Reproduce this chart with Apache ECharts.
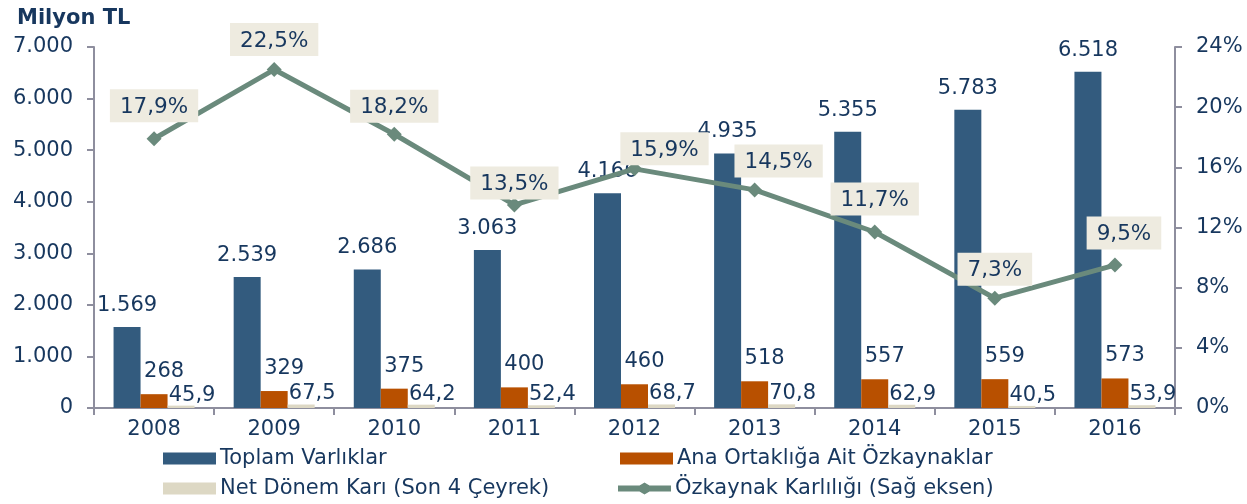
<!DOCTYPE html>
<html><head><meta charset="utf-8">
<script src="https://cdn.jsdelivr.net/npm/echarts@6/dist/echarts.min.js"></script>
<style>html,body{margin:0;padding:0;background:#fff}#c{width:1247px;height:504px}</style>
</head><body><div id="c"></div>
<script>
const categories = ['2008','2009','2010','2011','2012','2013','2014','2015','2016'];
const toplamVarliklar = [1569,2539,2686,3063,4166,4935,5355,5783,6518];
const anaOrtakligaOzkaynak = [268,329,375,400,460,518,557,559,573];
const netDonemKari = [45.9,67.5,64.2,52.4,68.7,70.8,62.9,40.5,53.9];
const ozkaynakKarliligi = [17.9,22.5,18.2,13.5,15.9,14.5,11.7,7.3,9.5];
const leftTicks = ['0','1.000','2.000','3.000','4.000','5.000','6.000','7.000'];
// label placement tweaks for the ratio labels (style, not data)
const ratioLabelDx = [0,0,0,0,30,24,0,0,9];
const ratioLabelGap = [16,13,11,5,3,12,16,12,15];

const FONT = 'DejaVu Sans';
const NAVY = '#17375E';
const fmtThousands = v => String(Math.round(v)).replace(/\B(?=(\d{3})+(?!\d))/g, '.');
const fmtDec = v => v.toFixed(1).replace('.', ',');
const lineIcon = 'path://M0,3 L21.5,3 L26.5,0 L31.5,3 L53,3 L53,9 L31.5,9 L26.5,12 L21.5,9 L0,9 Z';

const chart = echarts.init(document.getElementById('c'));
const lbl = {color: NAVY, fontFamily: FONT, fontSize: 21};
const axisCol = '#8E8E9E';
chart.setOption({
  animation: false,
  textStyle: {fontFamily: FONT},
  title: {text: 'Milyon TL', left: 12, top: 3, textStyle: {fontFamily: FONT, fontSize: 21, fontWeight: 'bold', color: NAVY}},
  grid: {left: 94, right: 72, top: 47, bottom: 96},
  legend: [
    {data: [{name: 'Toplam Varlıklar', icon: 'rect'}], left: 158, top: 443},
    {data: [{name: 'Ana Ortaklığa Ait Özkaynaklar', icon: 'rect'}], left: 615, top: 443},
    {data: [{name: 'Net Dönem Karı (Son 4 Çeyrek)', icon: 'rect'}], left: 158, top: 473},
    {data: [{name: 'Özkaynak Karlılığı (Sağ eksen)', icon: lineIcon}], left: 613, top: 473}
  ].map(l => Object.assign(l, {itemWidth: 53, itemHeight: 12, itemGap: 6,
      textStyle: {fontFamily: FONT, fontSize: 21, color: NAVY, padding: [0,0,0,-1]}})),
  xAxis: {type: 'category', data: categories,
    axisLine: {lineStyle: {color: axisCol, width: 2}},
    axisTick: {show: true, length: 7, lineStyle: {color: axisCol, width: 2}},
    axisLabel: {...lbl, margin: 11}},
  yAxis: [
    {type: 'value', min: 0, max: 7000, interval: 1000, splitLine: {show: false},
     axisLine: {show: true, lineStyle: {color: axisCol, width: 2}},
     axisTick: {show: true, length: 7, lineStyle: {color: axisCol, width: 2}},
     axisLabel: {...lbl, margin: 21, formatter: (v) => leftTicks[Math.round(v/1000)]}},
    {type: 'value', min: 0, max: 24, interval: 4, splitLine: {show: false}, position: 'right',
     axisLine: {show: true, lineStyle: {color: axisCol, width: 2}},
     axisTick: {show: true, length: 7, lineStyle: {color: axisCol, width: 2}},
     axisLabel: {...lbl, margin: 21, formatter: v => v + '%'}}
  ],
  series: [
    {name: 'Toplam Varlıklar', type: 'bar', data: toplamVarliklar, barWidth: 27, barGap: '0%',
     itemStyle: {color: '#335B7E'},
     label: {show: true, position: 'top', distance: 11, ...lbl, formatter: p => fmtThousands(p.value)}},
    {name: 'Ana Ortaklığa Ait Özkaynaklar', type: 'bar', data: anaOrtakligaOzkaynak, barWidth: 27, barGap: '0%',
     itemStyle: {color: '#B85000'},
     label: {show: true, position: 'top', distance: 12, offset: [10, 0], ...lbl, formatter: p => fmtThousands(p.value)}},
    {name: 'Net Dönem Karı (Son 4 Çeyrek)', type: 'bar', data: netDonemKari, barWidth: 27, barGap: '0%',
     itemStyle: {color: '#DDD8C4'},
     label: {show: true, position: 'top', distance: 0, offset: [11, 0], ...lbl, formatter: p => fmtDec(p.value)}},
    {name: 'Özkaynak Karlılığı (Sağ eksen)', type: 'line', yAxisIndex: 1,
     data: ozkaynakKarliligi.map((v, i) => ({value: v, label: {offset: [ratioLabelDx[i], 0], distance: ratioLabelGap[i] - 7}})),
     symbol: 'diamond', symbolSize: 15, z: 5,
     lineStyle: {color: '#6A8A7C', width: 5}, itemStyle: {color: '#6A8A7C'},
     label: {show: true, position: 'top', ...lbl, fontSize: 21.5, backgroundColor: '#EEEBE0',
       padding: [7, 10, 4, 10], formatter: p => fmtDec(p.value) + '%'}}
  ]
});
</script></body></html>
